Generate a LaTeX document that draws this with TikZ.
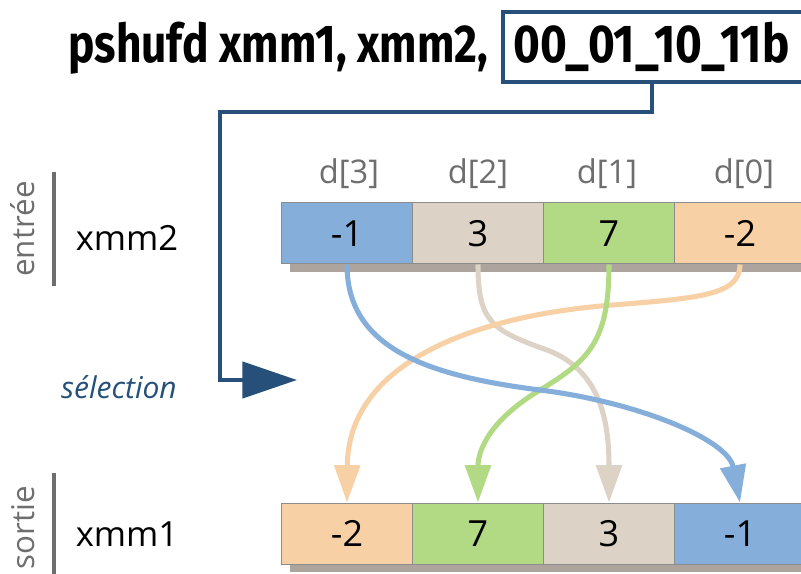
\documentclass[tikz,border=0pt]{standalone}
\usepackage{fontspec}
\setmainfont{Open Sans}
\newfontfamily\titlefont{Fira Sans}
\usetikzlibrary{arrows.meta}
\definecolor{cblue}{HTML}{85AFDA}
\definecolor{cbeige}{HTML}{DCD2C6}
\definecolor{cgreen}{HTML}{B2DA84}
\definecolor{corange}{HTML}{F8D0A5}
\definecolor{dblue}{HTML}{26507A}
\definecolor{shadowc}{HTML}{ADA59D}
\definecolor{labgray}{HTML}{6E6E6E}
\tikzset{
  cell/.style={draw=black!45, line width=0.75pt, minimum width=98.25pt, minimum height=45.75pt, inner sep=0pt, font=\fontsize{27}{30}\selectfont},
  idx/.style={text=labgray, font=\fontsize{24.5}{28}\selectfont},
  reg/.style={font=\fontsize{26}{30}\selectfont},
  side/.style={text=labgray, rotate=90, font=\fontsize{23.5}{28}\selectfont},
  bar/.style={draw=labgray, line width=3.2pt},
  flow/.style={line width=3.8pt, -{Triangle[length=28pt,width=19pt]}},
  sel/.style={draw=dblue, line width=3.4pt},
  ttl/.style={anchor=base west, inner sep=0pt, font=\titlefont\bfseries\fontsize{40}{44}\selectfont}
}
\begin{document}
\begin{tikzpicture}[x=0.75pt,y=-0.75pt]
\useasboundingbox (0,0) rectangle (801,574);
\clip (0,0) rectangle (801,574);
% title
\node[ttl] (title) at (68,63) {\scalebox{0.83}[1]{pshufd xmm1, xmm2,}};
\node[ttl] (masktxt) at (513,63) {\scalebox{0.86}[1]{00\_01\_10\_11b}};
\draw[sel] (503,12) rectangle (815,82);
\coordinate (maskbot) at (652,82);
\coordinate (selend) at (297,380);
\draw[sel, -{Triangle[length=41pt,width=27pt]}] (maskbot) |- (220,112) |- (selend);
\node[text=dblue, font=\itshape\fontsize{22.5}{26}\selectfont] (seltxt) at (119,387) {sélection};
% side labels
\node[side] (entree) at (23,229) {entrée};
\draw[bar] (54,172) -- (54,286);
\node[side] (sortie) at (23,528) {sortie};
\draw[bar] (54,473) -- (54,580);
\node[reg] (xmmb) at (127,238) {xmm2};
\node[reg] (xmma) at (127,534) {xmm1};
% shadows
\fill[shadowc] (290,211) rectangle (820,272);
\fill[shadowc] (290,511) rectangle (820,572);
% top cells
\node[cell, fill=cblue] (t3) at (347,233.5) {-1};
\node[cell, fill=cbeige] (t2) at (478,233.5) {3};
\node[cell, fill=cgreen] (t1) at (609,233.5) {7};
\node[cell, fill=corange] (t0) at (740,233.5) {-2};
\node[idx] (d3) at (349,174) {d[3]};
\node[idx] (d2) at (478,174) {d[2]};
\node[idx] (d1) at (607,174) {d[1]};
\node[idx] (d0) at (744,174) {d[0]};
% bottom cells
\node[cell, fill=corange] (b3) at (347,533.5) {-2};
\node[cell, fill=cgreen] (b2) at (478,533.5) {7};
\node[cell, fill=cbeige] (b1) at (609,533.5) {3};
\node[cell, fill=cblue] (b0) at (740,533.5) {-1};
% flows
\draw[flow, draw=cbeige] (t2.south) .. controls (478,320) and (490,330) .. (547,350) .. controls (600,370) and (609,420) .. (b1.north);
\draw[flow, draw=corange] (t0.south) .. controls (740,295) and (700,298) .. (613,305) .. controls (480,315) and (348,360) .. (b3.north);
\draw[flow, draw=cgreen] (t1.south) .. controls (609,340) and (590,360) .. (540,390) .. controls (490,420) and (478,450) .. (b2.north);
\draw[flow, draw=cblue] (t3.south) .. controls (347,345) and (420,375) .. (540,390) .. controls (640,402.5) and (728,440) .. (b0.north);
\end{tikzpicture}
\end{document}
